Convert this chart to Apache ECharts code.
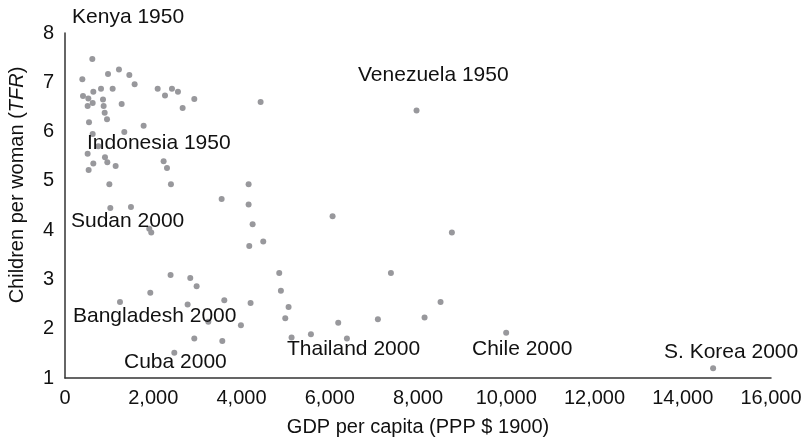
<!DOCTYPE html>
<html>
<head>
<meta charset="utf-8">
<script src="https://cdn.jsdelivr.net/npm/echarts@6/dist/echarts.min.js"></script>
<style>html,body{margin:0;padding:0;background:#fff;}#c{width:806px;height:444px;}</style>
</head>
<body>
<div id="c"></div>
<script>
// GDP per capita (PPP $ 1900) vs Children per woman (TFR)
const points = [
  [619,7.47],[393,7.06],[975,7.17],[1223,7.26],[1458,7.15],[1578,6.96],[408,6.72],[529,6.67],
  [642,6.81],[816,6.87],[1080,6.87],[513,6.52],[627,6.58],[861,6.65],[876,6.52],[1284,6.56],
  [899,6.38],[952,6.25],[544,6.19],[2100,6.87],[2266,6.73],[2424,6.87],[2560,6.81],[2930,6.66],
  [2666,6.48],[4433,6.60],[1782,6.12],[1344,5.99],[627,5.95],[755,5.70],[513,5.55],[906,5.48],
  [642,5.35],[959,5.38],[1148,5.30],[536,5.22],[2235,5.40],[2311,5.26],[1005,4.93],[2401,4.93],
  [4161,4.93],[3550,4.63],[4161,4.52],[1027,4.45],[1495,4.47],[1910,4.03],[1955,3.95],[4252,4.12],
  [4176,3.68],[4493,3.77],[2393,3.09],[2839,3.03],[2983,2.86],[4855,3.13],[4893,2.77],[1933,2.73],
  [1246,2.54],[2779,2.49],[3610,2.58],[4206,2.52],[5067,2.44],[4992,2.21],[3248,2.14],[3987,2.07],
  [2930,1.80],[3565,1.75],[2477,1.51],[5135,1.82],[5573,1.89],[6064,4.28],[8768,3.95],[7386,3.13],
  [8511,2.54],[8149,2.23],[7091,2.19],[6192,2.12],[6389,1.80],[9998,1.92],[7967,6.43],[14688,1.20]
];
const annotationNames = ['Kenya 1950','Venezuela 1950','Indonesia 1950','Sudan 2000','Bangladesh 2000','Cuba 2000','Thailand 2000','Chile 2000','S. Korea 2000'];
const annotationX = [159, 6640, 499, 136, 181, 1337, 5031, 9223, 13574];
const annotationY = [8.32, 7.15, 5.77, 4.19, 2.26, 1.33, 1.59, 1.59, 1.53];
const xTicks = [0,2000,4000,6000,8000,10000,12000,14000,16000];
const yTicks = [1,2,3,4,5,6,7,8];
const xTitle = 'GDP per capita (PPP $ 1900)';

const FONT = '"Liberation Sans", Arial, Helvetica, sans-serif';
const chart = echarts.init(document.getElementById('c'));
chart.setOption({
  animation: false,
  backgroundColor: '#fff',
  grid: {left: 65, top: 33, right: 35, bottom: 66, containLabel: false},
  xAxis: {
    type: 'value', min: xTicks[0], max: xTicks[xTicks.length-1], interval: 2000,
    name: xTitle, nameLocation: 'middle', nameGap: 39,
    nameTextStyle: {fontFamily: FONT, fontSize: 20, color: '#111'},
    axisLine: {show: true, lineStyle: {color: '#333', width: 1.5}},
    axisTick: {show: false}, splitLine: {show: false},
    axisLabel: {fontFamily: FONT, fontSize: 20, color: '#111', margin: 10,
      formatter: v => v.toLocaleString('en-US')}
  },
  yAxis: {
    type: 'value', min: yTicks[0], max: yTicks[yTicks.length-1], interval: 1,
    axisLine: {show: true, lineStyle: {color: '#333', width: 1.5}},
    axisTick: {show: false}, splitLine: {show: false},
    axisLabel: {fontFamily: FONT, fontSize: 20, color: '#111', margin: 11}
  },
  graphic: [{
    type: 'text', rotation: Math.PI/2,
    x: 17, y: 185,
    style: {
      text: '{a|Children per woman (}{b|TFR}{a|)}',
      rich: {
        a: {fontFamily: FONT, fontSize: 20, fill: '#111'},
        b: {fontFamily: FONT, fontSize: 20, fill: '#111', fontStyle: 'italic'}
      },
      align: 'center', verticalAlign: 'middle'
    }
  }],
  series: [{
    type: 'scatter', data: points, symbolSize: 6,
    itemStyle: {color: '#98989c', opacity: 1}
  }, {
    type: 'scatter', clip: false, symbolSize: 0,
    itemStyle: {opacity: 1},
    data: annotationNames.map((n, i) => [annotationX[i], annotationY[i], n]),
    label: {show: true, position: 'right', distance: 0, formatter: p => p.data[2],
      fontFamily: FONT, fontSize: 21, color: '#111', opacity: 1},
    silent: true
  }]
});
</script>
</body>
</html>
